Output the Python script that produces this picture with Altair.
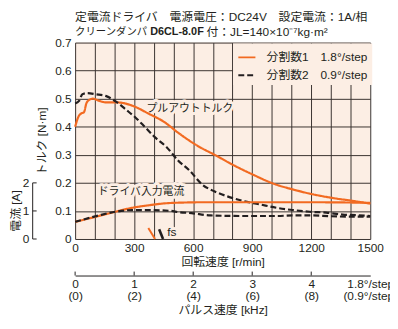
import altair as alt
import pandas as pd

FONT = "Liberation Sans Narrow, Liberation Sans, Noto Sans CJK JP, sans-serif"
INK = "#231F20"
GRID = "#3A3330"
BG = "#FCEEE4"
ORANGE = "#F26A21"

series = ["分割数1　1.8°/step", "分割数2　0.9°/step"]
colors = [ORANGE, INK]
dashes = [[1, 0], [6, 3]]

# Pull-out torque [N·m]
po1_rpm = [0, 20, 30, 45, 57, 70, 90, 120, 155, 205, 255, 305, 370, 455, 525, 620, 720, 800, 905, 1005, 1110, 1210, 1310, 1410, 1500]
po1_tq = [0.40, 0.44, 0.447, 0.452, 0.483, 0.495, 0.50, 0.493, 0.487, 0.487, 0.483, 0.471, 0.448, 0.416, 0.378, 0.333, 0.296, 0.265, 0.229, 0.198, 0.176, 0.159, 0.146, 0.136, 0.126]
po2_rpm = [0, 20, 37, 62, 105, 155, 213, 255, 305, 355, 405, 464, 523, 580, 648, 707, 774, 858, 941, 1025, 1109, 1192, 1276, 1360, 1430, 1500]
po2_tq = [0.483, 0.492, 0.516, 0.52, 0.516, 0.51, 0.487, 0.463, 0.434, 0.399, 0.363, 0.328, 0.28, 0.245, 0.193, 0.17, 0.152, 0.135, 0.123, 0.111, 0.103, 0.097, 0.094, 0.087, 0.085, 0.082]

# Driver input current [A]
cur1_rpm = [0, 120, 204, 288, 372, 456, 556, 650, 800, 1000, 1200, 1400, 1500]
cur1_a = [0.61, 0.82, 0.97, 1.11, 1.20, 1.27, 1.30, 1.31, 1.31, 1.31, 1.31, 1.30, 1.29]
cur2_rpm = [0, 120, 204, 288, 372, 489, 523, 591, 690, 858, 1025, 1109, 1200, 1300, 1400, 1500]
cur2_a = [0.61, 0.84, 0.97, 1.03, 1.03, 1.00, 0.96, 0.92, 0.84, 0.82, 0.82, 0.84, 0.84, 0.81, 0.80, 0.80]

# fs markers
fs1_rpm = [372, 406]
fs1_tq = [0.039, 0.0]
fs2_rpm = [427, 447]
fs2_tq = [0.035, 0.0]

rpm_grid = list(range(0, 1501, 100))
tq_ticks = [0, 0.1, 0.2, 0.3, 0.4, 0.5, 0.6, 0.7]
amp_ticks = [0, 1, 2]
khz_ticks = [0, 1, 2, 3, 4, 5]
khz_marks = [0, 1, 2, 3, 4]

df_po = pd.concat([
    pd.DataFrame({"rpm": po1_rpm, "tq": po1_tq, "series": series[0]}),
    pd.DataFrame({"rpm": po2_rpm, "tq": po2_tq, "series": series[1]}),
])
df_cur = pd.concat([
    pd.DataFrame({"rpm": cur1_rpm, "amp": cur1_a, "series": series[0]}),
    pd.DataFrame({"rpm": cur2_rpm, "amp": cur2_a, "series": series[1]}),
])

xscale = alt.Scale(domain=[0, 1500], nice=False, zero=False)
X_main = alt.X("rpm:Q", scale=xscale, axis=alt.Axis(
    values=rpm_grid, labelExpr="datum.value % 300 == 0 ? format(datum.value, 'd') : ''",
    grid=True, gridColor=GRID, gridOpacity=1, gridWidth=1, ticks=False, domain=False,
    labelPadding=4, labelFlush=False, labelOverlap=False,
    title="回転速度 [r/min]", titlePadding=3))
Y_tq = alt.Y("tq:Q", scale=alt.Scale(domain=[0, 0.7], nice=False, zero=False), axis=alt.Axis(
    values=tq_ticks, labelExpr="datum.value == 0 ? '0' : format(datum.value, '.1f')",
    grid=True, gridColor=GRID, gridOpacity=1, gridWidth=1, ticks=False, domain=False,
    labelPadding=4, labelFlush=False, labelOverlap=False, title="トルク [N·m]", titlePadding=6))
ampscale = alt.Scale(domain=[0, 7], nice=False, zero=False)
Y_amp = alt.Y("amp:Q", scale=ampscale, axis=alt.Axis(
    orient="left", offset=43, values=amp_ticks, format="d", grid=False, domain=False,
    ticks=False, labelPadding=4, labelFlush=False, labelOverlap=False, title=None))
X_cur = alt.X("rpm:Q", scale=xscale, axis=None)

leg = alt.Legend(
    orient="none", legendX=160, legendY=1, fillColor=BG, padding=4, title=None,
    symbolType="stroke", symbolSize=300, symbolStrokeWidth=2, labelFont=FONT,
    labelFontSize=12, labelColor=INK, rowPadding=2, labelOffset=10)
color = alt.Color("series:N", scale=alt.Scale(domain=series, range=colors), legend=leg)
dash = alt.StrokeDash("series:N", scale=alt.Scale(domain=series, range=dashes), legend=leg)

ann = pd.DataFrame({"rpm": [583, 492], "tq": [0.464, 0.025], "label": ["プルアウトトルク", "fs"],
                    "size": [11, 12]})
ann_halo = alt.Chart(ann).mark_text(font=FONT, color=BG, stroke=BG, strokeWidth=6,
    strokeJoin="round", baseline="middle").encode(
    x=X_main, y=Y_tq, text="label:N", size=alt.Size("size:Q", scale=None, legend=None))
ann_text = alt.Chart(ann).mark_text(font=FONT, color=INK, baseline="middle").encode(
    x=X_main, y=Y_tq, text="label:N", size=alt.Size("size:Q", scale=None, legend=None))

po_lines = alt.Chart(df_po).mark_line(strokeWidth=2.2, interpolate="monotone").encode(
    x=X_main, y=Y_tq, color=color, strokeDash=dash)

fs1 = alt.Chart(pd.DataFrame({"rpm": fs1_rpm, "tq": fs1_tq})).mark_line(
    color=ORANGE, strokeWidth=2).encode(x=X_main, y=Y_tq)
fs2 = alt.Chart(pd.DataFrame({"rpm": fs2_rpm, "tq": fs2_tq})).mark_line(
    color=INK, strokeWidth=2.6).encode(x=X_main, y=Y_tq)

one = pd.DataFrame({"k": [0]})
t1 = alt.Chart(one).mark_text(text="定電流ドライバ　電源電圧：DC24V　設定電流：1A/相", font=FONT,
    fontSize=12, color=INK, align="left", baseline="middle").encode(x=alt.value(0), y=alt.value(-26))
t2a = alt.Chart(one).mark_text(text="クリーンダンパ", font=FONT, fontSize=10.5, color=INK,
    align="left", baseline="middle").encode(x=alt.value(0), y=alt.value(-11))
t2b = alt.Chart(one).mark_text(text="D6CL-8.0F", font=FONT, fontSize=11, fontWeight="bold",
    color=INK, align="left", baseline="middle").encode(x=alt.value(76), y=alt.value(-11))
t2c = alt.Chart(one).mark_text(text="付：JL=140×10⁻⁷kg·m²", font=FONT, fontSize=12, color=INK,
    align="left", baseline="middle").encode(x=alt.value(133), y=alt.value(-11))

torque_group = alt.layer(ann_halo, po_lines, fs1, fs2, ann_text, t1, t2a, t2b, t2c)

cur_ann_df = pd.DataFrame({"rpm": [335], "amp": [1.67], "label": ["ドライバ入力電流"]})
cur_ann_halo = alt.Chart(cur_ann_df).mark_text(font=FONT, fontSize=11, color=BG, stroke=BG,
    strokeWidth=6, strokeJoin="round", baseline="middle").encode(
    x=X_cur, y=Y_amp, text="label:N")
cur_lines = alt.Chart(df_cur).mark_line(strokeWidth=2.2, interpolate="monotone").encode(
    x=X_cur, y=Y_amp, color=color, strokeDash=dash)
cur_axis_line = alt.Chart(pd.DataFrame({"amp": [0], "amp2": [2]})).mark_rule(
    color=INK, strokeWidth=1).encode(y=Y_amp, y2="amp2:Q", x=alt.value(-43))
cur_axis_ticks = alt.Chart(pd.DataFrame({"amp": amp_ticks})).mark_rule(
    color=INK, strokeWidth=1).encode(y=Y_amp, x=alt.value(-43), x2=alt.value(-39))
cur_title = alt.Chart(pd.DataFrame({"amp": [1], "label": ["電流 [A]"]})).mark_text(
    font=FONT, fontSize=12, color=INK, angle=270, baseline="middle").encode(
    y=Y_amp, x=alt.value(-60), text="label:N")
cur_ann = alt.Chart(cur_ann_df).mark_text(
    font=FONT, fontSize=11, color=INK, baseline="middle").encode(
    x=X_cur, y=Y_amp, text="label:N")

current_group = alt.layer(cur_ann_halo, cur_lines, cur_axis_line, cur_axis_ticks, cur_title, cur_ann)

khz_axis = alt.Axis(
    orient="bottom", offset=37, values=khz_ticks, ticks=False, domain=True, domainColor=INK,
    domainWidth=1, grid=False, labelPadding=3, labelFlush=False, labelOverlap=False,
    labelLineHeight=12.5,
    labelExpr="datum.value == 5 ? ['1.8°/step', '(0.9°/step)'] : [format(datum.value, 'd'), '(' + format(datum.value * 2, 'd') + ')']",
    title="パルス速度 [kHz]", titlePadding=3)
pulse = alt.Chart(pd.DataFrame({"khz": khz_marks})).mark_rule(color=INK, strokeWidth=1).encode(
    x=alt.X("khz:Q", scale=alt.Scale(domain=[0, 5], nice=False, zero=False), axis=khz_axis),
    y=alt.value(232), y2=alt.value(236))

chart = alt.layer(torque_group, current_group, pulse).resolve_scale(
    x="independent", y="independent"
).properties(
    width=299, height=199, autosize="none",
    padding={"left": 68, "top": 33, "right": 20, "bottom": 78},
).configure_view(fill=BG, stroke=None).configure_axis(
    labelFont=FONT, labelFontSize=12, labelColor=INK, titleFont=FONT, titleFontSize=12,
    titleColor=INK, titleFontWeight="normal")

chart.save("out.html", embed_options={"renderer": "svg", "actions": False})
